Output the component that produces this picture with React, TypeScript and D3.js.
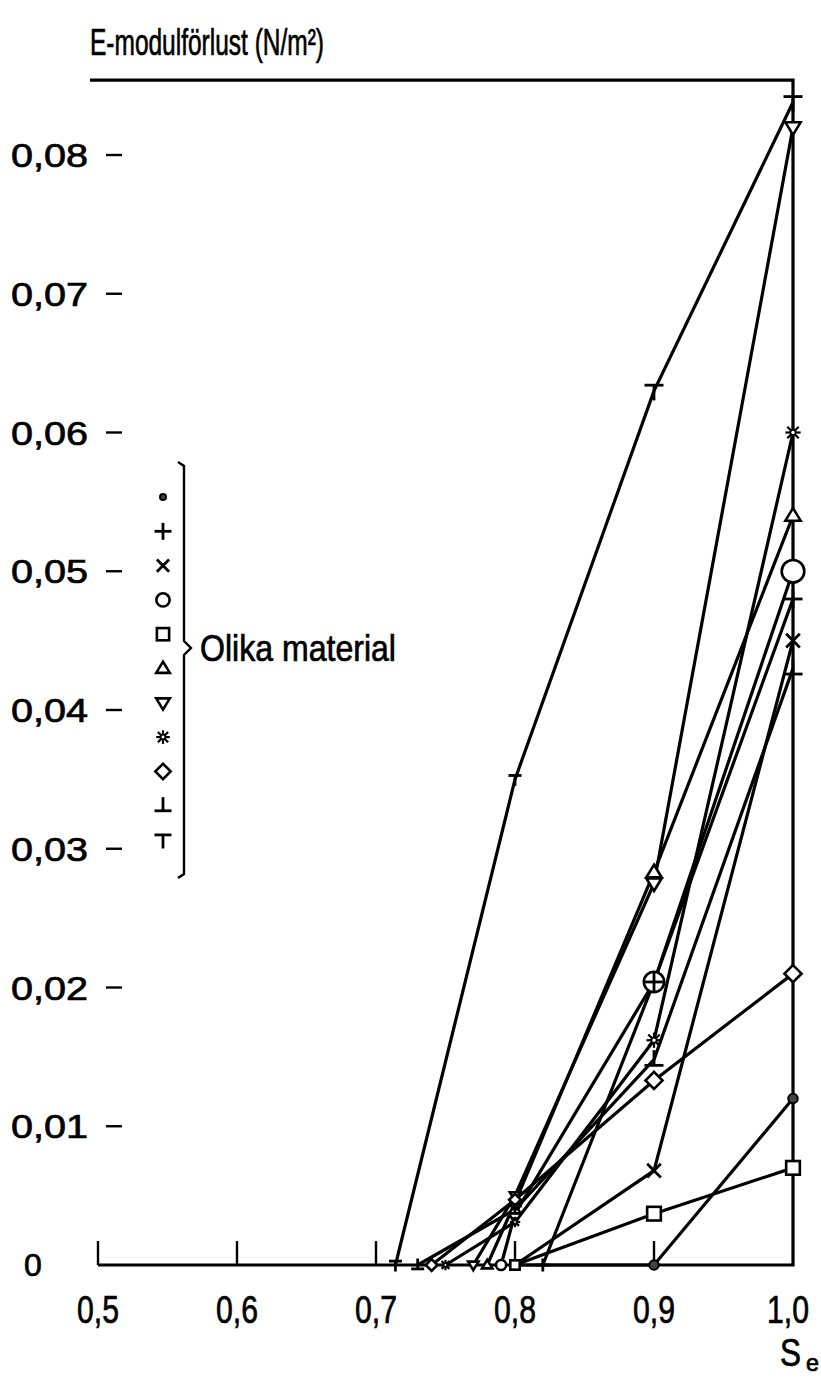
import React from "react";
import * as d3 from "d3";

// ---- data ----
const xTicks = [0.5, 0.6, 0.7, 0.8, 0.9, 1.0];
const yTicks = [0, 0.01, 0.02, 0.03, 0.04, 0.05, 0.06, 0.07, 0.08];

const markerKinds = ["dot", "plus", "cross", "circle", "square", "triUp", "triDown", "star", "diamond", "upTack", "tee"];

const dotX = [0.8, 0.9, 1.0];
const dotY = [0, 0, 0.012];
const plusX = [0.82, 0.9, 1.0];
const plusY = [0, 0.0204, 0.048];
const crossX = [0.8, 0.9, 1.0];
const crossY = [0, 0.0068, 0.045];
const circleX = [0.79, 0.8, 0.9, 1.0];
const circleY = [0, 0.0037, 0.0204, 0.05];
const squareX = [0.8, 0.9, 1.0];
const squareY = [0, 0.0037, 0.007];
const triUpX = [0.78, 0.8, 0.9, 1.0];
const triUpY = [0, 0.0045, 0.0283, 0.054];
const triDownX = [0.77, 0.8, 0.9, 1.0];
const triDownY = [0, 0.005, 0.0275, 0.082];
const starX = [0.75, 0.8, 0.9, 1.0];
const starY = [0, 0.0031, 0.0162, 0.06];
const diamondX = [0.74, 0.8, 0.9, 1.0];
const diamondY = [0, 0.0047, 0.0133, 0.021];
const upTackX = [0.73, 0.8, 0.9, 1.0];
const upTackY = [0, 0.004, 0.0148, 0.043];
const teeX = [0.714, 0.8, 0.9, 1.0];
const teeY = [0, 0.035, 0.063, 0.0838];

const seriesX = [dotX, plusX, crossX, circleX, squareX, triUpX, triDownX, starX, diamondX, upTackX, teeX];
const seriesY = [dotY, plusY, crossY, circleY, squareY, triUpY, triDownY, starY, diamondY, upTackY, teeY];

const titleText = "E-modulförlust (N/m²)";
const legendText = "Olika material";
const xAxisMain = "S";
const xAxisSub = "e";

// ---- layout ----
const W = 821;
const H = 1384;
const x = d3.scaleLinear().domain([0.5, 1.0]).range([98, 793]);
const y = d3.scaleLinear().domain([0, 0.08]).range([1265, 155]);
const FONT = "'Liberation Sans', Arial, sans-serif";
const SW = 3.2;
const TXT = { fontFamily: FONT, fill: "#000", stroke: "#000", strokeWidth: 0.7 } as any;

function Marker({ kind, cx, cy, s }: { kind: string; cx: number; cy: number; s: number }) {
  const h = s / 2;
  const common = { stroke: "#000", strokeWidth: 2.6, fill: "#fff" } as any;
  switch (kind) {
    case "dot":
      return <circle cx={cx} cy={cy} r={Math.max(3, h * 0.5)} fill="#444" stroke="#000" strokeWidth={2} />;
    case "plus":
      return (
        <g stroke="#000" strokeWidth={2.8}>
          <line x1={cx - h} y1={cy} x2={cx + h} y2={cy} />
          <line x1={cx} y1={cy - h} x2={cx} y2={cy + h} />
        </g>
      );
    case "cross": {
      const k = h * 0.72;
      return (
        <g stroke="#000" strokeWidth={2.8}>
          <line x1={cx - k} y1={cy - k} x2={cx + k} y2={cy + k} />
          <line x1={cx - k} y1={cy + k} x2={cx + k} y2={cy - k} />
        </g>
      );
    }
    case "circle":
      return <circle cx={cx} cy={cy} r={h * 0.78} {...common} />;
    case "square": {
      const k = h * 0.72;
      return <rect x={cx - k} y={cy - k} width={2 * k} height={2 * k} {...common} />;
    }
    case "triUp": {
      const k = h * 0.8;
      return <path d={`M${cx},${cy - k}L${cx + k},${cy + k * 0.65}L${cx - k},${cy + k * 0.65}Z`} {...common} />;
    }
    case "triDown": {
      const k = h * 0.8;
      return <path d={`M${cx},${cy + k}L${cx + k},${cy - k * 0.65}L${cx - k},${cy - k * 0.65}Z`} {...common} />;
    }
    case "star": {
      const k = h * 0.8;
      const d = k * 0.75;
      return (
        <g stroke="#000" strokeWidth={2.2}>
          <line x1={cx - k} y1={cy} x2={cx + k} y2={cy} />
          <line x1={cx} y1={cy - k} x2={cx} y2={cy + k} />
          <line x1={cx - d} y1={cy - d} x2={cx + d} y2={cy + d} />
          <line x1={cx - d} y1={cy + d} x2={cx + d} y2={cy - d} />
          <circle cx={cx} cy={cy} r={k * 0.35} fill="#fff" strokeWidth={1.8} />
        </g>
      );
    }
    case "diamond": {
      const k = h * 0.9;
      return <path d={`M${cx},${cy - k}L${cx + k},${cy}L${cx},${cy + k}L${cx - k},${cy}Z`} {...common} />;
    }
    case "upTack":
      return (
        <g stroke="#000" strokeWidth={2.8}>
          <line x1={cx} y1={cy - h} x2={cx} y2={cy + h * 0.6} />
          <line x1={cx - h} y1={cy + h * 0.6} x2={cx + h} y2={cy + h * 0.6} />
        </g>
      );
    case "tee":
      return (
        <g stroke="#000" strokeWidth={2.8}>
          <line x1={cx} y1={cy - h * 0.6} x2={cx} y2={cy + h} />
          <line x1={cx - h} y1={cy - h * 0.6} x2={cx + h} y2={cy - h * 0.6} />
        </g>
      );
    default:
      return null;
  }
}

export default function App() {
  const line = d3
    .line<[number, number]>()
    .x((d) => x(d[0]))
    .y((d) => y(d[1]));

  const fmtY = (v: number) => (v === 0 ? "0" : d3.format(".2f")(v).replace(".", ","));
  const fmtX = (v: number) => d3.format(".1f")(v).replace(".", ",");

  const series = markerKinds.map((kind, i) => ({
    kind,
    pts: seriesX[i].map((sx, j) => [sx, seriesY[i][j]] as [number, number]),
  }));

  // legend positions
  const legTop = 497;
  const legStep = 34.3;
  const legX = 163;
  const braceX = 184;
  const braceTop = 462;
  const braceBot = 878;
  const braceMid = 648;

  return (
    <svg
      width={W}
      height={H}
      viewBox={`0 0 ${W} ${H}`}
      style={{ position: "absolute", left: 0, top: 0, background: "#fff" }}
    >
      <rect x={0} y={0} width={W} height={H} fill="#fff" />
      {/* title */}
      <text x={90} y={55} {...TXT} fontSize={37} textLength={234} lengthAdjust="spacingAndGlyphs">
        {titleText}
      </text>

      {/* frame: top, right, bottom */}
      <path
        d={`M${x(0.5) - 8},${y(0.0854)}L${x(1.0)},${y(0.0854)}L${x(1.0)},${y(0)}L${x(0.5)},${y(0)}`}
        fill="none"
        stroke="#000"
        strokeWidth={SW}
      />

      {/* x ticks (short stubs up from axis) */}
      {xTicks.slice(0, -1).map((t) => (
        <line key={"xt" + t} x1={x(t)} x2={x(t)} y1={y(0)} y2={y(0) - 24} stroke="#000" strokeWidth={2.4} />
      ))}
      {/* x labels */}
      {xTicks.map((t) => (
        <text
          key={"xl" + t}
          x={t === 1.0 ? x(t) - 5 : x(t)}
          y={1323}
          {...TXT}
          fontSize={38}
          textAnchor="middle"
          textLength={42}
          lengthAdjust="spacingAndGlyphs"
        >
          {fmtX(t)}
        </text>
      ))}
      {/* x axis title */}
      <text x={780} y={1366} {...TXT} fontSize={38} textLength={21} lengthAdjust="spacingAndGlyphs">
        {xAxisMain}
      </text>
      <text x={806} y={1371} {...TXT} fontSize={24} textLength={13} lengthAdjust="spacingAndGlyphs">
        {xAxisSub}
      </text>

      {/* y ticks */}
      {yTicks.slice(1).map((t) => (
        <line key={"yt" + t} x1={106} x2={122} y1={y(t)} y2={y(t)} stroke="#000" strokeWidth={2.4} />
      ))}
      {/* y labels */}
      {yTicks.map((t) =>
        t === 0 ? (
          <text key={"yl" + t} x={24} y={y(t) + 11} {...TXT} fontSize={32}>
            {fmtY(t)}
          </text>
        ) : (
          <text
            key={"yl" + t}
            x={11}
            y={y(t) + 12}
            {...TXT}
            fontSize={33}
            textLength={77}
            lengthAdjust="spacingAndGlyphs"
          >
            {fmtY(t)}
          </text>
        )
      )}

      {/* series lines */}
      {series.map((s) => (
        <path key={"l" + s.kind} d={line(s.pts) || ""} fill="none" stroke="#000" strokeWidth={SW} />
      ))}
      {/* series markers */}
      {series.map((s) =>
        s.pts.map((p, j) => {
          const big = p[0] >= 0.85;
          let size = big ? 19 : 13;
          if (s.kind === "circle" && big) size = p[0] > 0.95 ? 29 : 26;
          return <Marker key={s.kind + j} kind={s.kind} cx={x(p[0])} cy={y(p[1])} s={size} />;
        })
      )}
      {/* plus drawn again on top of circle at 0.9 (⊕) */}
      {series
        .filter((s) => s.kind === "plus")
        .map((s) =>
          s.pts
            .filter((p) => p[0] >= 0.85 && p[0] < 0.95)
            .map((p, j) => <Marker key={"pp" + j} kind="plus" cx={x(p[0])} cy={y(p[1])} s={20} />)
        )}

      {/* legend */}
      {markerKinds.map((k, i) => (
        <Marker key={"lg" + k} kind={k} cx={legX} cy={legTop + i * legStep} s={k === "dot" ? 12 : 17} />
      ))}
      <path
        d={`M${braceX - 6},${braceTop}L${braceX},${braceTop + 4}L${braceX},${braceMid - 7}L${braceX + 7},${braceMid}L${braceX},${braceMid + 7}L${braceX},${braceBot - 4}L${braceX - 6},${braceBot}`}
        fill="none"
        stroke="#000"
        strokeWidth={2.4}
      />
      <text
        x={200}
        y={braceMid + 13}
        {...TXT}
        fontSize={37}
        textLength={196}
        lengthAdjust="spacingAndGlyphs"
      >
        {legendText}
      </text>
    </svg>
  );
}
